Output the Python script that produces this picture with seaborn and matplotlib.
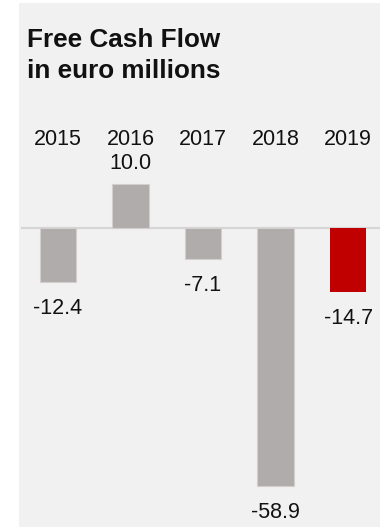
import matplotlib
matplotlib.use("Agg")
import matplotlib.pyplot as plt
import matplotlib.transforms as mtrans
from matplotlib.patches import Rectangle
import seaborn as sns
import pandas as pd

# Free cash flow by year, in euro millions
years = ["2015", "2016", "2017", "2018", "2019"]
values = [-12.4, 10.0, -7.1, -58.9, -14.7]
bar_colors = ["#b0acab", "#b0acab", "#b0acab", "#b0acab", "#c00000"]
title_lines = ["Free Cash Flow", "in euro millions"]

sns.set_theme(style="white")
plt.rcParams["font.family"] = ["Liberation Sans", "DejaVu Sans"]

W, H = 380, 527
fig = plt.figure(figsize=(W / 100, H / 100), dpi=100)
fig.patch.set_facecolor("white")

# light grey card behind the chart
fig.patches.append(Rectangle((19 / W, 0), (W - 19) / W, 1 - 3 / H,
                             transform=fig.transFigure, facecolor="#f1f1f1",
                             edgecolor="none", zorder=-5))

ax_top, ax_bot = 100, 525
ax = fig.add_axes([21 / W, 1 - ax_bot / H, (W - 21) / W, (ax_bot - ax_top) / H])
ax.set_facecolor("none")
ax.set_zorder(2)

df = pd.DataFrame({"year": years, "value": values})
sns.barplot(data=df, x="year", y="value", hue="year", palette=bar_colors,
            legend=False, width=0.5, ax=ax, zorder=3, saturation=1)

for patch, c in zip(ax.patches, bar_colors):
    if c != "#c00000":
        patch.set_edgecolor("#d2cfce")
        patch.set_linewidth(0.8)
    else:
        patch.set_edgecolor("none")

ax.axhline(0, color="#d6d6d6", lw=1.6, zorder=1)

scale = 4.39
zero_px = 227.7
ax.set_ylim(-(ax_bot - zero_px) / scale, (zero_px - ax_top) / scale)
ax.set_xlim(-0.51, 4.44)
ax.set_xticks([])
ax.set_yticks([])
ax.set_xlabel("")
ax.set_ylabel("")
for s in ax.spines.values():
    s.set_visible(False)

# year labels above the chart area
blend = mtrans.blended_transform_factory(ax.transData, fig.transFigure)
for i, y in enumerate(years):
    ax.text(i, 1 - 145 / H, y, transform=blend, ha="center", va="baseline",
            fontsize=15.5, color="#111111")

# value labels at the end of each bar
for i, v in enumerate(values):
    if v >= 0:
        ax.annotate(f"{v:.1f}", (i, v), xytext=(0, 15), textcoords="offset pixels",
                    ha="center", va="baseline", fontsize=15.5, color="#111111")
    else:
        ax.annotate(f"{v:.1f}", (i, v), xytext=(0, -32), textcoords="offset pixels",
                    ha="center", va="baseline", fontsize=15.5, color="#111111")

# title
fig.text(27 / W, 1 - 46.7 / H, title_lines[0], ha="left", va="baseline",
         fontsize=18.8, fontweight="bold", color="#111111")
fig.text(27 / W, 1 - 77.7 / H, title_lines[1], ha="left", va="baseline",
         fontsize=18.8, fontweight="bold", color="#111111")

fig.savefig("out.png", dpi=100)
